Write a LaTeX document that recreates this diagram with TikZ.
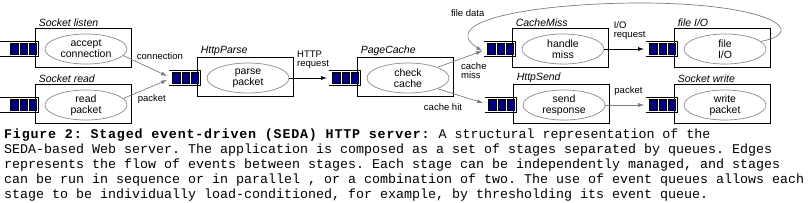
\documentclass[tikz,border=0pt]{standalone}
\usepackage{fontspec}
\setmainfont{Liberation Sans}
\setmonofont{Liberation Mono}
\usepackage{tikz}
\usetikzlibrary{
  shapes.geometric,
  arrows.meta,
  positioning,
  calc
}
\definecolor{qNavy}{HTML}{000080}
\definecolor{evtGray}{HTML}{8C8C8C}
\definecolor{edgeGray}{HTML}{7C7C7C}
\tikzset{
  stg/.style={
    rectangle, draw=black, line width=0.9pt,
    minimum width=96pt, minimum height=39pt, inner sep=0pt
  },
  evt/.style={
    ellipse, draw=evtGray, line width=0.7pt, align=center,
    minimum width=82pt, minimum height=30pt, inner sep=0pt,
    font=\fontsize{10.5}{11}\selectfont
  },
  ttl/.style={
    anchor=south west, xshift=3pt, inner sep=1pt,
    font=\fontsize{10.5}{12}\selectfont\itshape
  },
  qnode/.style={
    rectangle, minimum width=31pt, minimum height=15pt, inner sep=0pt
  },
  elbl/.style={font=\fontsize{9.5}{9.5}\selectfont, inner sep=1pt, align=left},
  garr/.style={-{Latex[length=6pt,width=4pt]}, draw=edgeGray, line width=0.7pt},
  barr/.style={-{Latex[length=6pt,width=4pt]}, draw=black, line width=0.9pt},
  capt/.style={
    inner sep=0pt, align=left,
    font=\ttfamily\fontsize{13.33}{15}\selectfont
  }
}

\begin{document}
\begin{tikzpicture}[x=1pt, y=-1pt]

    \useasboundingbox (0,0) rectangle (809,202);
    \coordinate (lft) at (0,0);

    % stages
    \node[stg, label={[ttl]north west:Socket listen}] (sl) at (83,48) {};
    \node[stg, label={[ttl]north west:Socket read}] (sr) at (83,104) {};
    \node[stg, label={[ttl]north west:HttpParse}] (hp) at (245,77) {};
    \node[stg, label={[ttl]north west:PageCache}] (pc) at (405,77) {};
    \node[stg, label={[ttl]north west:CacheMiss}] (cm) at (560,48) {};
    \node[stg, label={[ttl]north west:HttpSend}] (hs) at (561,104) {};
    \node[stg, label={[ttl]north west:file I/O}] (fio) at (722,48) {};
    \node[stg, label={[ttl]north west:Socket write}] (sw) at (722,104) {};

    % queues
    \node[qnode, anchor=east] (q1) at ([xshift=4pt,yshift=-1pt]sl.west) {};
    \node[qnode, anchor=east] (q2) at ([xshift=4pt,yshift=-1pt]sr.west) {};
    \node[qnode, anchor=east] (q3) at ([xshift=4pt,yshift=-1pt]hp.west) {};
    \node[qnode, anchor=east] (q4) at ([xshift=4pt,yshift=-1pt]pc.west) {};
    \node[qnode, anchor=east] (q5) at ([xshift=4pt,yshift=-1pt]cm.west) {};
    \node[qnode, anchor=east] (q6) at ([xshift=4pt,yshift=-1pt]hs.west) {};
    \node[qnode, anchor=east] (q7) at ([xshift=4pt,yshift=-1pt]fio.west) {};
    \node[qnode, anchor=east] (q8) at ([xshift=4pt,yshift=-1pt]sw.west) {};

    \foreach \q in {q1,q2,q3,q4,q5,q6,q7,q8} {
      \draw[line width=0.8pt] (\q.north west) -- (\q.north east)
        -- (\q.south east) -- (\q.south west);
      \foreach \i in {0,1,2}
        \draw[fill=qNavy, line width=0.5pt]
          ($(\q.north west)+(3.5+9.3*\i,1.8)$) rectangle ++(7.2,11.4);
    }
    \draw[line width=0.8pt] (q1.north west) -- (q1.north west -| lft);
    \draw[line width=0.8pt] (q1.south west) -- (q1.south west -| lft);
    \draw[line width=0.8pt] (q2.north west) -- (q2.north west -| lft);
    \draw[line width=0.8pt] (q2.south west) -- (q2.south west -| lft);

    % events
    \node[evt] (e1) at ([xshift=3pt,yshift=-1pt]sl.center) {accept\\connection};
    \node[evt] (e2) at ([xshift=3pt,yshift=-1pt]sr.center) {read\\packet};
    \node[evt] (e3) at ([xshift=3pt,yshift=-1pt]hp.center) {parse\\packet};
    \node[evt] (e4) at ([xshift=3pt,yshift=-1pt]pc.center) {check\\cache};
    \node[evt] (e5) at ([xshift=3pt,yshift=-1pt]cm.center) {handle\\miss};
    \node[evt] (e6) at ([xshift=3pt,yshift=-1pt]hs.center) {send\\response};
    \node[evt] (e7) at ([xshift=3pt,yshift=-1pt]fio.center) {file\\I/O};
    \node[evt] (e8) at ([xshift=3pt,yshift=-1pt]sw.center) {write\\packet};

    % edges
    \draw[garr] (e1.-10) -- node[elbl, pos=0.28, anchor=south west] {connection}
      ([xshift=-2pt,yshift=2pt]q3.west);
    \draw[garr] (e2.10) -- node[elbl, pos=0.3, anchor=north west] {packet}
      ([xshift=-2pt,yshift=-2pt]q3.west);
    \draw[barr] (e3.east) -- node[elbl, pos=0.17, anchor=south west, yshift=8pt]
      {HTTP\\request} ([xshift=-2pt]q4.west);
    \draw[garr] (e4.20) -- node[elbl, pos=0.5, anchor=north west, yshift=-2pt]
      {cache\\miss} ([xshift=-2pt,yshift=-2pt]q5.west);
    \draw[garr] (e4.-20) -- node[elbl, pos=0.12, anchor=north, yshift=-12pt]
      {cache hit} ([xshift=-2pt,yshift=2pt]q6.west);
    \draw[barr] (e5.east) -- node[elbl, pos=0.2, anchor=south west, yshift=8pt]
      {I/O\\request} ([xshift=-2pt]q7.west);
    \draw[garr] (e6.east) -- node[elbl, pos=0.2, anchor=south west, yshift=8pt]
      {packet} ([xshift=-2pt]q8.west);

    \coordinate (ftop) at (640,3);
    \draw[garr] (e7.12) .. controls (810,32) and (770,3) .. (ftop)
      .. controls (540,3) and (435,20) ..
      node[elbl, pos=0.62, anchor=south east, yshift=4pt] {file data}
      ([xshift=-2pt,yshift=-2pt]q5.west);

    % caption
    \node[capt, anchor=north west] (cap) at (4,128.5)
      {\textbf{\addfontfeature{LetterSpace=6}Figure 2: Staged event-driven (SEDA) HTTP server:} A structural representation of the\\
       SEDA-based Web server. The application is composed as a set of stages separated by queues. Edges\\
       represents the flow of events between stages. Each stage can be independently managed, and stages\\
       can be run in sequence or in parallel , or a combination of two. The use of event queues allows each\\
       stage to be individually load-conditioned, for example, by thresholding its event queue.};

  \end{tikzpicture}
\end{document}
